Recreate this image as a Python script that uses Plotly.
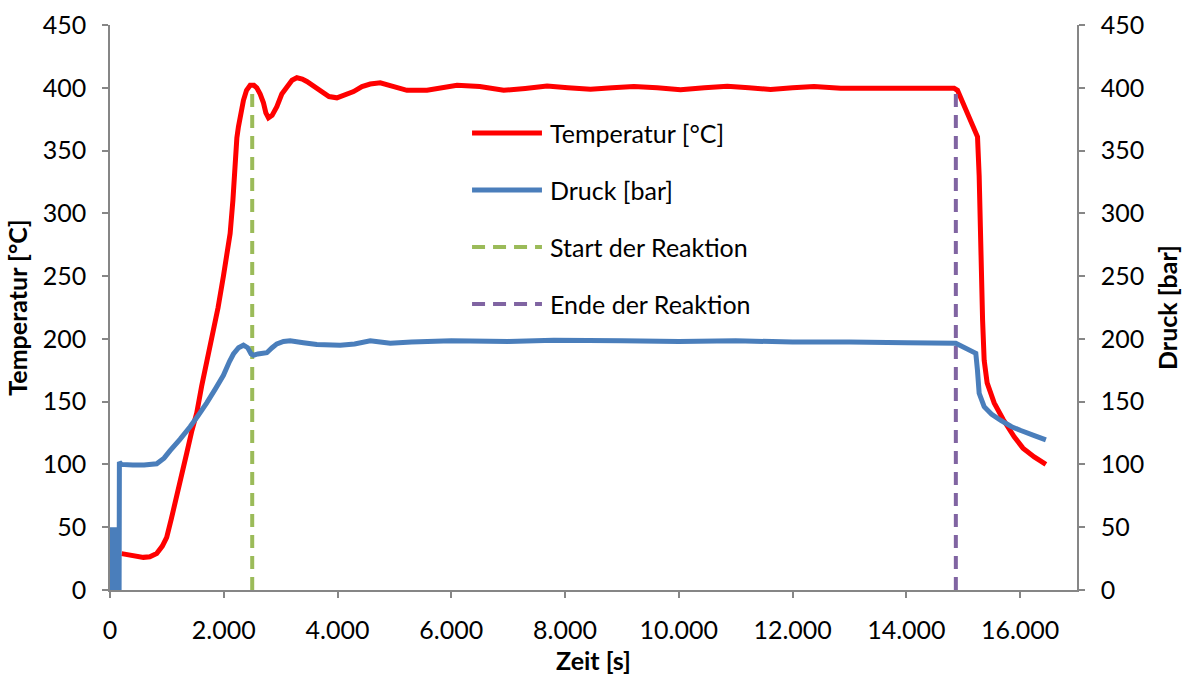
import plotly.graph_objects as go

# ---------------- data ----------------
temp_time = [205, 400, 587, 700, 821, 920, 997, 1080, 1173, 1260, 1349, 1440, 1525, 1610,
             1701, 1800, 1900, 1994, 2060, 2112, 2160, 2200, 2230, 2258, 2300, 2346, 2400,
             2464, 2530, 2581, 2640, 2698, 2740, 2786, 2850, 2933, 3020, 3109, 3200, 3285,
             3380, 3460, 3580, 3695, 3850, 3989, 4130, 4282, 4430, 4575, 4751, 4980, 5221,
             5573, 5807, 6101, 6500, 6921, 7300, 7684, 8050, 8447, 8830, 9209, 9620, 10030,
             10450, 10852, 11230, 11614, 12000, 12376, 12846, 14840, 14899, 15251, 15280,
             15309, 15340, 15368, 15420, 15544, 15700, 15896, 16050, 16248, 16453]
temp_values = [29, 27, 26, 26.5, 29, 35, 42, 57, 74, 92, 109, 127, 141, 162,
               181, 203, 225, 250, 268, 284, 310, 342, 360, 369, 382, 390, 398,
               402, 402, 400, 395, 388, 380, 376, 378, 385, 395, 401, 406, 408,
               407, 405, 401, 397, 393, 392, 394, 397, 401, 403, 404, 401, 398,
               398, 400, 402, 401, 398, 399.5, 401.4, 400, 398.8, 400, 401, 400, 398.4,
               400, 401.3, 400, 398.6, 400, 401, 399.6, 399.6, 398, 361, 330,
               263, 215, 183, 165, 149, 136, 122, 113, 106, 100]

press_time = [20, 30, 40, 50, 60, 70, 80, 90, 100, 110, 120, 130, 140, 150, 160, 165, 200,
              400, 600, 821, 950, 1056, 1230, 1408, 1550, 1701, 1850, 1994, 2100, 2170,
              2260, 2346, 2420, 2480, 2522, 2600, 2757, 2850, 2933, 3050, 3167, 3400, 3637,
              4047, 4300, 4575, 4750, 4927, 5300, 6000, 7000, 7800, 9000, 10000, 11000,
              12000, 13000, 14000, 14869, 15221, 15250, 15280, 15368, 15500, 15661, 15850,
              16013, 16250, 16453]
press_values = [0, 50, 0, 48, 0, 50, 2, 50, 0, 47, 0, 50, 0, 50, 0, 102, 100,
                99.5, 99.5, 100.5, 105, 111, 120, 130, 139, 149, 160, 171, 182, 188,
                193, 195, 193, 188, 187, 188, 189, 193, 196, 198, 198.5, 197, 195.5,
                195, 196, 198.5, 197.5, 196.5, 197.5, 198.5, 198, 199, 198.5, 198, 198.5,
                197.5, 197.5, 197, 196.5, 188.5, 175, 156.7, 146, 140, 135, 130,
                127, 123, 119.5]

start_time = [2500, 2500]
end_time = [14870, 14870]
marker_line_values = [0, 400]

series_names = ["Temperatur [°C]", "Druck [bar]", "Start der Reaktion", "Ende der Reaktion"]
x_ticks = [0, 2000, 4000, 6000, 8000, 10000, 12000, 14000, 16000]

# ---------------- styles ----------------
RED = "#FF0000"
BLUE = "#4A7EBB"
GREEN = "#9BBB59"
PURPLE = "#8064A2"
AXIS = "#868686"
FONT = "Lato"
FS = 25

fig = go.Figure()
fig.add_trace(go.Scatter(x=temp_time, y=temp_values, mode="lines", name=series_names[0],
                         line=dict(color=RED, width=5), yaxis="y"))
fig.add_trace(go.Scatter(x=press_time, y=press_values, mode="lines", name=series_names[1],
                         line=dict(color=BLUE, width=5, simplify=False), yaxis="y2"))
fig.add_trace(go.Scatter(x=start_time, y=marker_line_values, mode="lines", name=series_names[2],
                         line=dict(color=GREEN, width=4, dash="13px,8px"), yaxis="y"))
fig.add_trace(go.Scatter(x=end_time, y=marker_line_values, mode="lines", name=series_names[3],
                         line=dict(color=PURPLE, width=4, dash="13px,8px"), yaxis="y"))

# manual legend (long line samples as in the original)
legend_styles = [(RED, "solid"), (BLUE, "solid"), (GREEN, "13px,8px"), (PURPLE, "13px,8px")]
legend_rows = [0.8088, 0.708, 0.607, 0.5062]
shapes = []
annotations = []
for name, (col, dash), yy in zip(series_names, legend_styles, legend_rows):
    shapes.append(dict(type="line", xref="paper", yref="paper", x0=0.3744, x1=0.4467,
                       y0=yy, y1=yy, line=dict(color=col, width=5 if dash == "solid" else 4,
                                                 dash=dash)))
    annotations.append(dict(xref="paper", yref="paper", x=0.4529, y=yy, text=name,
                            showarrow=False, xanchor="left", yanchor="middle",
                            font=dict(family=FONT, size=FS, color="black")))

axis_common = dict(showgrid=False, zeroline=False, showline=True, linecolor=AXIS,
                   linewidth=1.5, ticks="outside", ticklen=6, tickcolor=AXIS, tickwidth=1.5,
                   automargin=False,
                   tickfont=dict(family=FONT, size=FS, color="black"))

fig.update_layout(
    width=1186, height=677,
    margin=dict(l=110, r=109, t=25, b=87),
    paper_bgcolor="white", plot_bgcolor="white",
    showlegend=False,
    separators=",.",
    font=dict(family=FONT, size=FS, color="black"),
    xaxis=dict(range=[0, 17000], tickvals=x_ticks, tickformat=",d",
               title=dict(text="<b>Zeit [s]</b>", standoff=10,
                          font=dict(family=FONT, size=FS, color="black")),
               ticklabelstandoff=11, **axis_common),
    yaxis=dict(range=[0, 450], dtick=50, tick0=0,
               title=dict(text="<b>Temperatur [°C]</b>", standoff=8,
                          font=dict(family=FONT, size=FS, color="black")),
               ticklabelstandoff=11, **axis_common),
    yaxis2=dict(range=[0, 450], dtick=50, tick0=0, overlaying="y", side="right",
                title=dict(text="<b>Druck [bar]</b>", standoff=16,
                           font=dict(family=FONT, size=FS, color="black")),
                ticklabelstandoff=11, **axis_common),
    shapes=shapes,
    annotations=annotations,
)

fig.write_html("out.html", config={"displayModeBar": False},
               post_script="document.body.style.margin='0px';document.body.style.overflow='hidden';")
